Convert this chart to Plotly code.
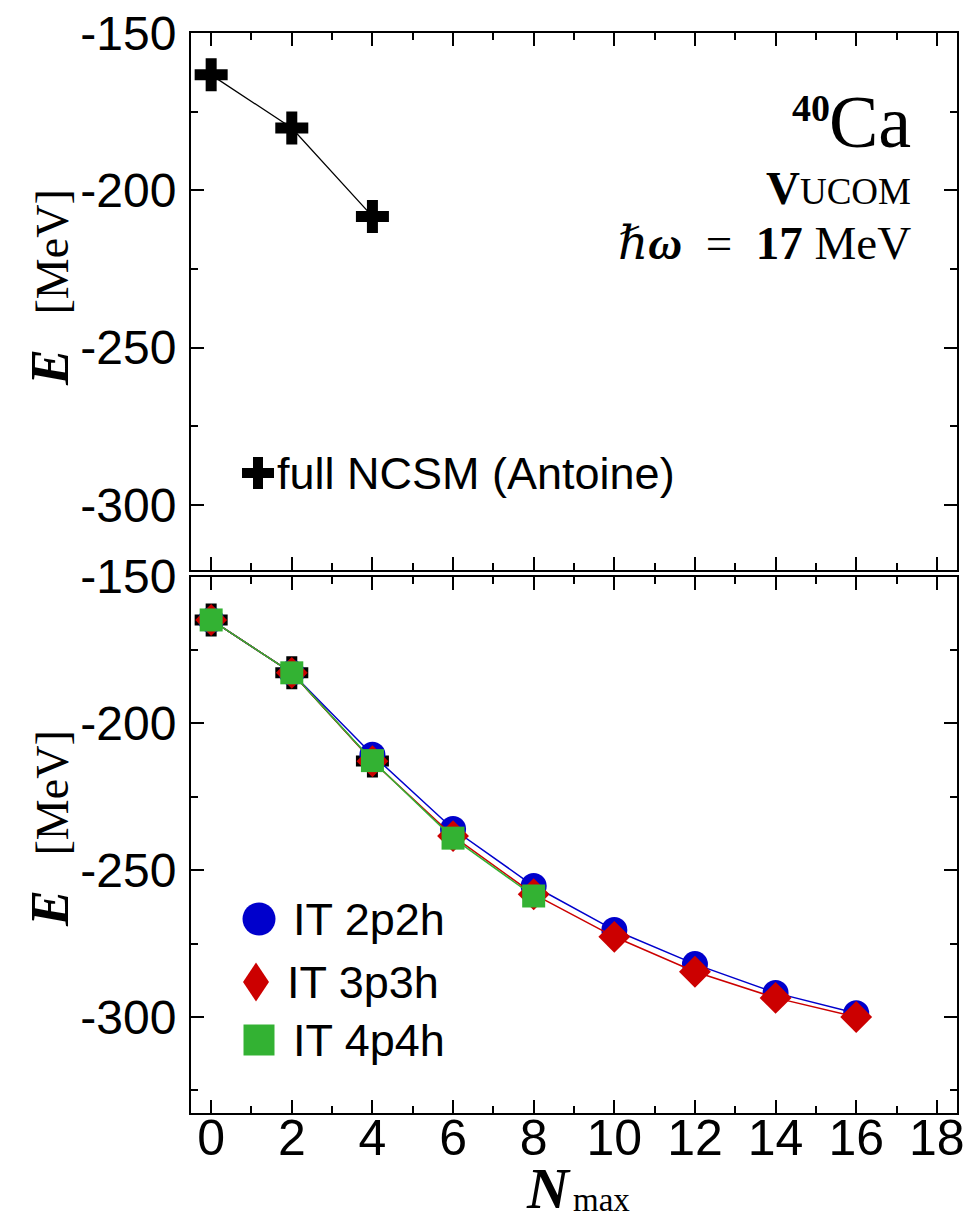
import plotly.graph_objects as go

# ---------------- data ----------------
n_max = [0, 2, 4, 6, 8, 10, 12, 14, 16]
ncsm_n = [0, 2, 4]
ncsm_top = [-163.3, -180.2, -208.3]          # full NCSM (Antoine), upper panel
ncsm_bottom = [-164.8, -182.8, -212.8]       # same points as drawn in the lower panel
it_2p2h = [-164.8, -182.8, -210.7, -236.0, -255.4, -270.4, -282.0, -291.8, -298.7]
it_3p3h = [-164.8, -182.8, -212.9, -238.4, -258.2, -272.7, -284.6, -293.5, -300.0]
it_4p4h_n = [0, 2, 4, 6, 8]
it_4p4h = [-164.8, -182.8, -212.7, -239.1, -258.8]
x_ticks = [0, 2, 4, 6, 8, 10, 12, 14, 16, 18]
y_ticks = [-300, -250, -200, -150]
legend_top = "full NCSM (Antoine)"
legend_bottom = ["IT 2p2h", "IT 3p3h", "IT 4p4h"]

# ---------------- styling ----------------
W, H = 980, 1220
ML, MT = 191, 33
PW, PH = 766, 1080
MR, MB = W - ML - PW, H - MT - PH

BLUE, RED, GREEN = "#0000CC", "#CC0000", "#33B233"
SANS = "Liberation Sans, Arial, sans-serif"
NARROW = "Liberation Sans Narrow, Arial Narrow, Liberation Sans, Arial, sans-serif"
SERIF = "Liberation Serif, Times New Roman, DejaVu Serif, serif"


def px(xp):  # page pixel -> paper fraction
    return (xp - ML) / PW


def py(yp):
    return (MT + PH - yp) / PH


fig = go.Figure()

# upper panel
fig.add_trace(go.Scatter(x=ncsm_n, y=ncsm_top, xaxis="x2", yaxis="y2", mode="lines+markers",
                         line=dict(color="black", width=1.3),
                         marker=dict(symbol="cross", size=27.5, color="black"),
                         showlegend=False, cliponaxis=False))

# lower panel
fig.add_trace(go.Scatter(x=ncsm_n, y=ncsm_bottom, xaxis="x", yaxis="y", mode="lines+markers",
                         line=dict(color="black", width=1.3),
                         marker=dict(symbol="cross", size=27.5, color="black"),
                         showlegend=False, cliponaxis=False))
fig.add_trace(go.Scatter(x=n_max, y=it_2p2h, mode="lines+markers",
                         line=dict(color=BLUE, width=1.5),
                         marker=dict(symbol="circle", size=26, color=BLUE),
                         showlegend=False, cliponaxis=False))
fig.add_trace(go.Scatter(x=n_max, y=it_3p3h, mode="lines+markers",
                         line=dict(color=RED, width=1.5),
                         marker=dict(symbol="diamond", size=24.5, color=RED),
                         showlegend=False, cliponaxis=False))
fig.add_trace(go.Scatter(x=it_4p4h_n, y=it_4p4h, mode="lines+markers",
                         line=dict(color=GREEN, width=1.5),
                         marker=dict(symbol="square", size=23, color=GREEN),
                         showlegend=False, cliponaxis=False))

axis_common = dict(showline=True, linewidth=2, linecolor="black", mirror="ticks",
                   ticks="inside", ticklen=13, tickwidth=2, tickcolor="black",
                   showgrid=False, zeroline=False, ticklabeloverflow="allow")

fig.update_layout(
    width=W, height=H,
    margin=dict(l=ML, r=MR, t=MT, b=MB, autoexpand=False),
    paper_bgcolor="white", plot_bgcolor="white",
    xaxis=dict(**axis_common, domain=[0, 1], anchor="y", range=[-0.5, 18.5],
               tickvals=x_ticks, ticktext=[str(v) for v in x_ticks],
               tickfont=dict(family=NARROW, size=50, color="black"), ticklabelstandoff=-20,
               minor=dict(dtick=1, ticklen=7, tickwidth=2, tickcolor="black", ticks="inside")),
    yaxis=dict(**axis_common, domain=[0, (MT + PH - 576.5) / PH], anchor="x",
               range=[-332.7, -150], tickvals=y_ticks, ticktext=[str(v) for v in y_ticks],
               tickfont=dict(family=SANS, size=48, color="black"), ticklabelstandoff=3,
               minor=dict(dtick=25, ticklen=7, tickwidth=2, tickcolor="black", ticks="inside")),
    xaxis2=dict(**axis_common, domain=[0, 1], anchor="y2", range=[-0.5, 18.5], matches="x",
                tickvals=x_ticks, showticklabels=False,
                minor=dict(dtick=1, ticklen=7, tickwidth=2, tickcolor="black", ticks="inside")),
    yaxis2=dict(**axis_common, domain=[(MT + PH - 570) / PH, 1], anchor="x2",
                range=[-320.7, -150], tickvals=y_ticks, ticktext=[str(v) for v in y_ticks],
                tickfont=dict(family=SANS, size=48, color="black"), ticklabelstandoff=3,
                minor=dict(dtick=25, ticklen=7, tickwidth=2, tickcolor="black", ticks="inside")),
)

ann = []
# axis titles
ytitle = ("<span style='font-size:54px'><b><i>E</i></b></span>"
          "&nbsp;&nbsp;&nbsp;[MeV]")
ann.append(dict(x=px(50), y=py(288), xref="paper", yref="paper", text=ytitle, textangle=-90,
                showarrow=False, font=dict(family=SERIF, size=46, color="black"),
                xanchor="center", yanchor="middle"))
ann.append(dict(x=px(50), y=py(829), xref="paper", yref="paper", text=ytitle, textangle=-90,
                showarrow=False, font=dict(family=SERIF, size=46, color="black"),
                xanchor="center", yanchor="middle"))
# x title: calligraphic N with subscript "max"
ann.append(dict(x=px(573), y=py(1188), xref="paper", yref="paper",
                text="<b><i>N</i></b>",
                showarrow=False, font=dict(family=SERIF, size=58, color="black"),
                xanchor="right", yanchor="middle"))
ann.append(dict(x=px(571), y=py(1200), xref="paper", yref="paper",
                text="max",
                showarrow=False, font=dict(family=SERIF, size=33, color="black"),
                xanchor="left", yanchor="middle"))

# nucleus / interaction labels
ann.append(dict(x=px(913), y=py(122), xref="paper", yref="paper", text="Ca",
                showarrow=False, font=dict(family=SERIF, size=74, color="black"),
                xanchor="right", yanchor="middle"))
ann.append(dict(x=px(832), y=py(108), xref="paper", yref="paper", text="<b>40</b>",
                showarrow=False, font=dict(family=SERIF, size=38, color="black"),
                xanchor="right", yanchor="middle"))
ann.append(dict(x=px(913), y=py(188), xref="paper", yref="paper",
                text="<b>V</b><span style='font-size:37px'>UCOM</span>",
                showarrow=False, font=dict(family=SERIF, size=47, color="black"),
                xanchor="right", yanchor="middle"))
ann.append(dict(x=px(913), y=py(243), xref="paper", yref="paper",
                text="<i>ℏ</i><b><i>ω</i></b>&nbsp;&nbsp;=&nbsp;&nbsp;<b>17</b>&nbsp;MeV",
                showarrow=False, font=dict(family=SERIF, size=47, color="black"),
                xanchor="right", yanchor="middle"))

# legends (text)
ann.append(dict(x=px(275), y=py(473), xref="paper", yref="paper", text=legend_top,
                showarrow=False, font=dict(family=SANS, size=45, color="black"),
                xanchor="left", yanchor="middle"))
for label, xl, yc in zip(legend_bottom, [291, 285, 291], [919, 982, 1040]):
    ann.append(dict(x=px(xl), y=py(yc), xref="paper", yref="paper", text=label,
                    showarrow=False, font=dict(family=SANS, size=45, color="black"),
                    xanchor="left", yanchor="middle"))
fig.update_layout(annotations=ann)

# legend symbols
shapes = []
shapes.append(dict(type="path", xref="paper", yref="paper", xsizemode="pixel", ysizemode="pixel",
                   xanchor=px(258), yanchor=py(473),
                   path="M-5,-16L5,-16L5,-5L16,-5L16,5L5,5L5,16L-5,16L-5,5L-16,5L-16,-5L-5,-5Z",
                   fillcolor="black", line=dict(width=0)))
shapes.append(dict(type="circle", xref="paper", yref="paper", xsizemode="pixel", ysizemode="pixel",
                   xanchor=px(259), yanchor=py(919), x0=-16.5, x1=16.5, y0=-16.5, y1=16.5,
                   fillcolor=BLUE, line=dict(width=0)))
shapes.append(dict(type="path", xref="paper", yref="paper", xsizemode="pixel", ysizemode="pixel",
                   xanchor=px(256), yanchor=py(982),
                   path="M0,19.5L13,0L0,-19.5L-13,0Z",
                   fillcolor=RED, line=dict(width=0)))
shapes.append(dict(type="rect", xref="paper", yref="paper", xsizemode="pixel", ysizemode="pixel",
                   xanchor=px(259), yanchor=py(1040), x0=-15.5, x1=15.5, y0=-15.5, y1=15.5,
                   fillcolor=GREEN, line=dict(width=0)))
fig.update_layout(shapes=shapes)

# remove the default page margin so the figure fills the 980x1220 window exactly
fig.write_html("out.html",
               config={"displayModeBar": False},
               post_script="document.body.style.margin='0px';document.body.style.overflow='hidden';")
